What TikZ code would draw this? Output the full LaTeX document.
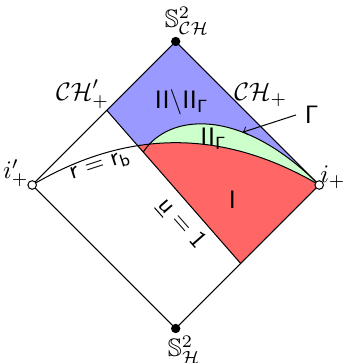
\documentclass[tikz,border=0pt]{standalone}
\usepackage{amssymb}
\usetikzlibrary{calc}
\definecolor{regblue}{RGB}{153,153,255}
\definecolor{regred}{RGB}{255,102,102}
\definecolor{reggreen}{RGB}{204,255,204}
\begin{document}
\begin{tikzpicture}[x=2cm,y=2cm,
  soliddot/.style={circle,fill=black,inner sep=0pt,minimum size=3.7pt},
  opendot/.style={circle,draw=black,fill=white,inner sep=0pt,minimum size=3.4pt,line width=0.4pt},
  curvelbl/.style={sloped,below,inner sep=1.5pt}]
\useasboundingbox (-1.2244,-1.2404) rectangle (1.1589,1.2892);
\coordinate (T) at (0,1);
\coordinate (Bo) at (0,-1);
\coordinate (L) at (-1,0);
\coordinate (R) at (1,0);
\coordinate (A) at (-0.48,0.52);
\coordinate (B) at (0.453,-0.547);
\coordinate (S) at ($(A)!0.272!(B)$);
% regions
\fill[regblue] (T) -- (A) -- (B) -- (R) -- cycle;
\begin{scope}
  \clip (T) -- (A) -- (B) -- (R) -- cycle;
  \fill[regred] (L) .. controls (-1/3,0.393) and (1/3,0.393) .. (R) -- (1,-1) -- (-1,-1) -- cycle;
\end{scope}
\begin{scope}
  \clip (L) .. controls (-1/3,0.393) and (1/3,0.393) .. (R) -- (1,1) -- (-1,1) -- cycle;
  \fill[reggreen] (S) .. controls (-0.05,0.5) and (0.45,0.55) .. (R) -- cycle;
\end{scope}
% lines
\draw (L) -- (T) -- (R) -- (Bo) -- cycle;
\draw (A) -- (B) node[curvelbl,inner sep=3pt,pos=0.66] (ulbl) {$\underline{\mathsf{u}} = \mathsf{1}$};
\draw (L) .. controls (-1/3,0.393) and (1/3,0.393) .. (R) node[curvelbl,pos=0.225] (rlbl) {$\mathsf{r} = \mathsf{r}_{\mathsf{b}}$};
\draw (S) .. controls (-0.05,0.5) and (0.45,0.55) .. (R) coordinate[pos=0.66] (G);
\node (gl) at (0.948,0.488) {$\mathsf{\Gamma}$};
\draw[->] (gl.west) -- (G);
% labels
\node (chp) at (-0.649,0.634) {$\mathcal{CH}'_+$};
\node (ch) at (0.593,0.627) {$\mathcal{CH}_+$};
\node (ip) at (-1.114,0.084) {$i'_+$};
\node (ir) at (1.096,0.052) {$i_+$};
\node (sch) at (0.079,1.143) {$\mathbb{S}^2_{\mathcal{CH}}$};
\node (sh) at (0.058,-1.15) {$\mathbb{S}^2_{\mathcal{H}}$};
\node (r2) at (0.042,0.578) {$\mathsf{II\backslash II_{\Gamma}}$};
\node (r2g) at (0.263,0.324) {$\mathsf{II_{\Gamma}}$};
\node (r1) at (0.395,-0.102) {$\mathsf{I}$};
% dots
\node[soliddot] (nT) at (T) {};
\node[soliddot] (nB) at (Bo) {};
\node[opendot] (nL) at (L) {};
\node[opendot] (nR) at (R) {};
\end{tikzpicture}
\end{document}
